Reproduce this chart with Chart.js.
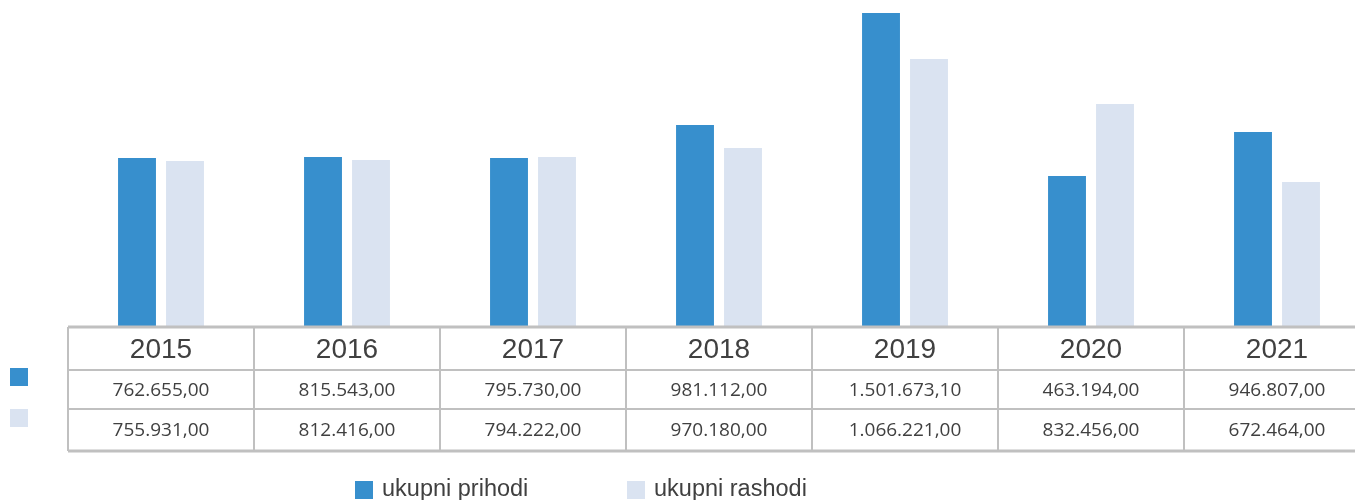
<!DOCTYPE html>
<html>
<head>
<meta charset="utf-8">
<script src="https://cdn.jsdelivr.net/npm/chart.js@4.4.1/dist/chart.umd.min.js"></script>
<style>
  html, body { margin: 0; padding: 0; background: #ffffff; overflow: hidden; }
  #wrap { position: relative; width: 1372px; height: 500px; }
</style>
</head>
<body>
<div id="wrap"><canvas id="c"></canvas></div>
<script>
// ---- data ----
const categories = ['2015', '2016', '2017', '2018', '2019', '2020', '2021'];
const seriesNames = ['ukupni prihodi', 'ukupni rashodi'];
// bar heights as drawn in the picture (estimated)
const prihodiBars = [806000, 811000, 806000, 965000, 1502000, 720000, 931000];
const rashodiBars = [792000, 797000, 811000, 854000, 1282000, 1066000, 691000];
// values printed in the data table
const prihodiTable = ['762.655,00', '815.543,00', '795.730,00', '981.112,00', '1.501.673,10', '463.194,00', '946.807,00'];
const rashodiTable = ['755.931,00', '812.416,00', '794.222,00', '970.180,00', '1.066.221,00', '832.456,00', '672.464,00'];

const BLUE = '#378fcd';
const LIGHT = '#dae3f1';
const GRID = '#c0c0c0';
const TXT = '#404040';

const tablePlugin = {
  id: 'dataTable',
  afterDraw(chart) {
    const ctx = chart.ctx;
    const xs = chart.scales.x;
    const n = categories.length;
    const step = xs.getPixelForValue(1) - xs.getPixelForValue(0);
    const left = xs.getPixelForValue(0) - step / 2;
    const rows = [327, 370, 409, 451];
    ctx.save();
    ctx.strokeStyle = GRID;
    for (let r = 0; r < rows.length; r++) {
      ctx.lineWidth = (r === 0 || r === rows.length - 1) ? 3 : 2;
      ctx.beginPath();
      ctx.moveTo(left, rows[r]);
      ctx.lineTo(left + step * n, rows[r]);
      ctx.stroke();
    }
    ctx.lineWidth = 2;
    for (let i = 0; i <= n; i++) {
      const x = left + step * i;
      ctx.beginPath();
      ctx.moveTo(x, rows[0]);
      ctx.lineTo(x, rows[rows.length - 1]);
      ctx.stroke();
    }
    ctx.fillStyle = TXT;
    ctx.textAlign = 'center';
    ctx.textBaseline = 'middle';
    for (let i = 0; i < n; i++) {
      const cx = left + step * i + step / 2;
      ctx.font = '28px "Liberation Sans", Arial, sans-serif';
      ctx.fillText(categories[i], cx, 350);
      ctx.font = '19px "Open Sans", "Noto Sans", sans-serif';
      ctx.fillText(prihodiTable[i], cx, 391);
      ctx.fillText(rashodiTable[i], cx, 431);
    }
    const ds = chart.data.datasets;
    ctx.fillStyle = ds[0].backgroundColor;
    ctx.fillRect(10, 368, 18, 18);
    ctx.fillStyle = ds[1].backgroundColor;
    ctx.fillRect(10, 409, 18, 18);
    const legendX = [355, 627];
    ctx.textAlign = 'left';
    ctx.font = '23.5px "Liberation Sans", Arial, sans-serif';
    for (let k = 0; k < ds.length; k++) {
      ctx.fillStyle = ds[k].backgroundColor;
      ctx.fillRect(legendX[k], 481, 18, 18);
      ctx.fillStyle = TXT;
      ctx.fillText(ds[k].label, legendX[k] + 27, 490);
    }
    ctx.restore();
  }
};

new Chart(document.getElementById('c'), {
  type: 'bar',
  data: {
    labels: categories,
    datasets: [
      { label: seriesNames[0], data: prihodiBars, backgroundColor: BLUE },
      { label: seriesNames[1], data: rashodiBars, backgroundColor: LIGHT }
    ]
  },
  options: {
    responsive: true,
    maintainAspectRatio: false,
    animation: false,
    layout: { padding: { left: 68, right: 2, top: 0, bottom: 174 } },
    datasets: { bar: { categoryPercentage: 0.516, barPercentage: 0.79 } },
    plugins: { legend: { display: false }, tooltip: { enabled: false }, title: { display: false } },
    scales: {
      x: { display: false, offset: true, grid: { display: false } },
      y: { display: false, min: 0, max: 1564800 }
    }
  },
  plugins: [tablePlugin]
});
</script>
</body>
</html>
